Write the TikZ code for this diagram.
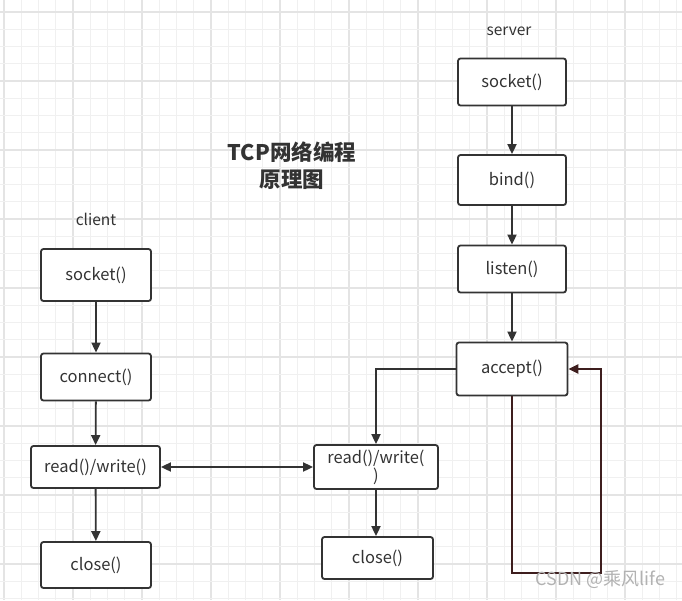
\documentclass[tikz,border=0pt]{standalone}
\usepackage{fontspec}
\setmainfont{Noto Sans CJK SC}
\usetikzlibrary{arrows.meta}
\definecolor{ink}{HTML}{333333}
\definecolor{gridminor}{HTML}{F0F0F0}
\definecolor{gridmajor}{HTML}{E4E4E4}
\definecolor{loopred}{HTML}{3E1E1E}
\tikzset{
  box/.style={draw=ink, line width=1.8pt, rounded corners=2.5pt, fill=white,
    text=ink, font=\fontsize{16.5}{18}\selectfont, inner sep=2pt},
  conn/.style={draw=ink, line width=1.8pt, -{Triangle[length=10pt,width=9pt]}},
  biconn/.style={draw=ink, line width=1.8pt, {Triangle[length=10pt,width=9pt]}-{Triangle[length=10pt,width=9pt]}},
  loopconn/.style={draw=loopred, line width=2.4pt, -{Triangle[length=10pt,width=9pt]}},
  lbl/.style={text=ink, font=\fontsize{15.5}{17}\selectfont},
}
\begin{document}
\begin{tikzpicture}[x=1pt,y=-1pt]
\useasboundingbox (0,0) rectangle (682,600);
\fill[white] (0,0) rectangle (682,600);
% grid
\foreach \k in {0,...,39}{
  \pgfmathsetmacro{\xx}{4+17.25*\k}
  \pgfmathtruncatemacro{\m}{mod(\k,4)}
  \ifnum\m=0
    \draw[gridmajor, line width=1.2pt] (\xx,0) -- (\xx,600);
  \else
    \draw[gridminor, line width=1pt] (\xx,0) -- (\xx,600);
  \fi
}
\foreach \k in {0,...,34}{
  \pgfmathsetmacro{\yy}{12+17.25*\k}
  \pgfmathtruncatemacro{\m}{mod(\k,4)}
  \ifnum\m=0
    \draw[gridmajor, line width=1.2pt] (0,\yy) -- (682,\yy);
  \else
    \draw[gridminor, line width=1pt] (0,\yy) -- (682,\yy);
  \fi
}
% labels
\node[lbl] (srvlbl) at (509,31) {server};
\node[lbl] (clilbl) at (96,219) {client};
\node[text=ink, font=\bfseries\fontsize{21.5}{27}\selectfont, align=center] (title) at (292,166) {TCP网络编程\\原理图};
% server boxes
\node[box, minimum width=108pt, minimum height=47pt] (ssock) at (512,82) {socket()};
\node[box, minimum width=108pt, minimum height=50pt] (sbind) at (512,180) {bind()};
\node[box, minimum width=108pt, minimum height=47pt] (slisten) at (512,269) {listen()};
\node[box, minimum width=111pt, minimum height=53pt] (saccept) at (512,369) {accept()};
% client boxes
\node[box, minimum width=110pt, minimum height=52pt] (csock) at (96,275) {socket()};
\node[box, minimum width=110pt, minimum height=47pt] (cconn) at (96,377) {connect()};
\node[box, minimum width=129pt, minimum height=42pt] (crw) at (95.5,467) {read()/write()};
\node[box, minimum width=110pt, minimum height=46pt] (cclose) at (96,565) {close()};
% middle boxes
\node[box, minimum width=124pt, minimum height=44pt, align=center, font=\fontsize{16.5}{16}\selectfont] (mrw) at (376,467) {read()/write(\\)};
\node[box, minimum width=111pt, minimum height=42pt] (mclose) at (377.5,558) {close()};
% connectors
\draw[conn] (ssock) -- (sbind);
\draw[conn] (sbind) -- (slisten);
\draw[conn] (slisten) -- (saccept);
\draw[conn] (csock) -- (cconn);
\draw[conn] (cconn) -- (crw);
\draw[conn] (crw) -- (cclose);
\draw[biconn] (crw) -- (mrw);
\draw[conn] (saccept.west) -| (mrw.north);
\draw[conn] (mrw.south) -- (mclose.north -| mrw.south);
\coordinate (loopc) at (601,573);
\draw[loopconn] (saccept.south) |- (loopc) |- (saccept.east);
% watermark
\node[text=gray!60, font=\fontsize{18}{20}\selectfont, anchor=east] (wm) at (669,580) {CSDN @乘风life};
\end{tikzpicture}
\end{document}
